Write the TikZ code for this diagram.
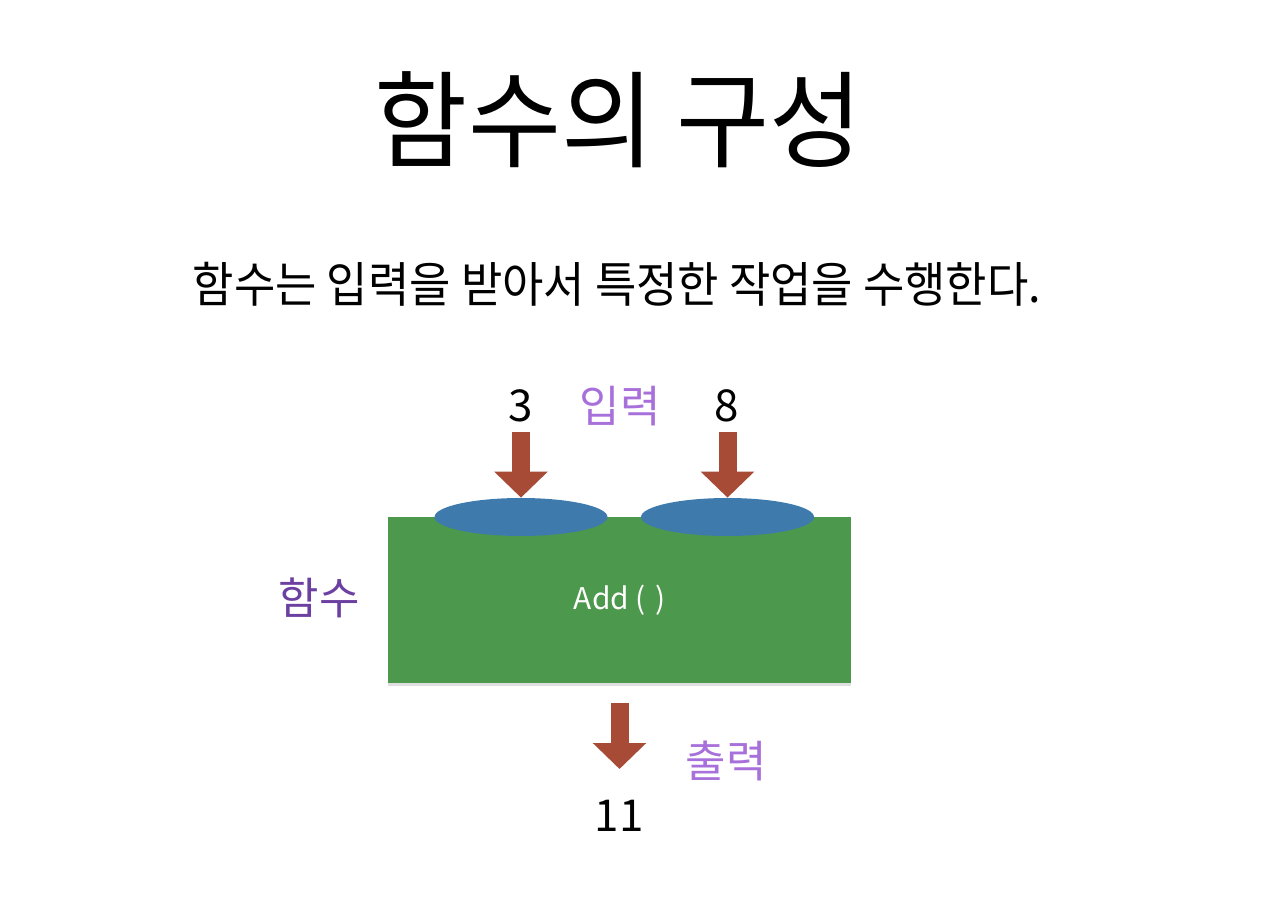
\documentclass[tikz,border=0pt]{standalone}
\usepackage{fontspec}
\setmainfont{Noto Sans CJK KR}
\newfontfamily\narrowkr[FakeStretch=0.93]{Noto Sans CJK KR}
\newfontfamily\titlekr[FakeStretch=0.96]{Noto Sans CJK KR}
\usetikzlibrary{arrows.meta,shapes.geometric,shadows}

\definecolor{boxgreen}{RGB}{76,152,76}
\definecolor{slotblue}{RGB}{62,123,172}
\definecolor{arrowred}{RGB}{168,75,54}
\definecolor{lightpurple}{RGB}{168,112,218}
\definecolor{darkpurple}{RGB}{108,64,160}

\tikzset{
  funcbox/.style={rectangle, fill=boxgreen, minimum width=9.26cm, minimum height=3.32cm,
    drop shadow={opacity=0.25, shadow xshift=0pt, shadow yshift=-1.5pt}},
  slot/.style={ellipse, fill=slotblue, minimum width=3.46cm, minimum height=0.76cm, inner sep=0pt},
  blockarrow/.style={draw=arrowred, line width=0.36cm,
    -{Triangle[width=1.04cm, length=0.52cm, fill=arrowred]}},
  numlabel/.style={font=\fontsize{25}{30}\selectfont, text=black},
  tag/.style={font=\fontsize{25}{30}\selectfont},
}

\begin{document}
\begin{tikzpicture}[x=0.02cm, y=-0.02cm]
\useasboundingbox (0,0) rectangle (1280,918);

% titles
\node (title) at (619,120) {\titlekr\fontsize{60}{70}\selectfont 함수의 구성};
\node (lead) at (617,284) {\narrowkr\fontsize{27.5}{33}\selectfont 함수는 입력을 받아서 특정한 작업을 수행한다.};

% function block
\node[funcbox] (add) at (619.5,600) {};
\node[text=white, font=\fontsize{17}{20}\selectfont] (addname) at (620,600) {Add (\,\,)};
\node[slot] (slotA) at (521,517) {};
\node[slot] (slotB) at (727.5,517) {};

% inputs
\node[numlabel] (inA) at (521,406) {3};
\node[numlabel] (inB) at (727,406) {8};
\node[tag, text=lightpurple] (intag) at (620,406) {입력};
\coordinate (inAtop) at (521,432);
\coordinate (inBtop) at (727.5,432);
\draw[blockarrow] (inAtop) -- (slotA.north);
\draw[blockarrow] (inBtop) -- (slotB.north);

% output
\coordinate (outtop) at (619.5,703);
\coordinate (outtip) at (619.5,769);
\draw[blockarrow] (outtop) -- (outtip);
\node[tag, text=lightpurple] (outtag) at (726,761) {출력};
\node[numlabel] (outval) at (619,816) {11};

\node[tag, text=darkpurple] (functag) at (319,598) {함수};
\end{tikzpicture}
\end{document}
